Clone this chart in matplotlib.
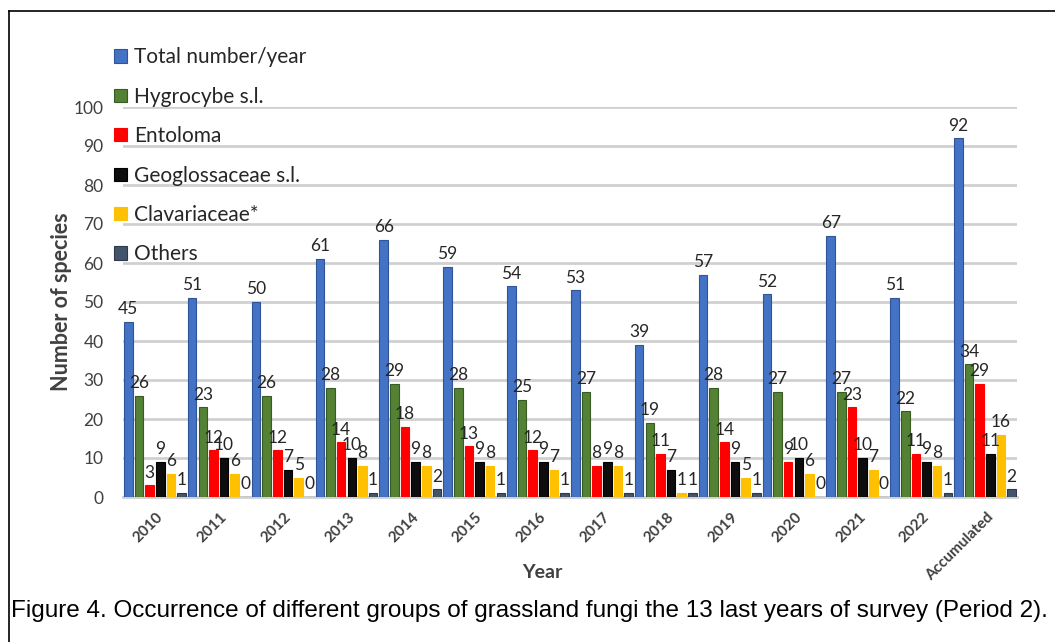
import numpy as np
import matplotlib
matplotlib.use("Agg")
import matplotlib.pyplot as plt
import matplotlib.transforms as mtransforms
from matplotlib.lines import Line2D

# Species counts per survey year
years = ["2010", "2011", "2012", "2013", "2014", "2015", "2016",
         "2017", "2018", "2019", "2020", "2021", "2022", "Accumulated"]
total = [45, 51, 50, 61, 66, 59, 54, 53, 39, 57, 52, 67, 51, 92]
hygrocybe = [26, 23, 26, 28, 29, 28, 25, 27, 19, 28, 27, 27, 22, 34]
entoloma = [3, 12, 12, 14, 18, 13, 12, 8, 11, 14, 9, 23, 11, 29]
geoglossaceae = [9, 10, 7, 10, 9, 9, 9, 9, 7, 9, 10, 10, 9, 11]
clavariaceae = [6, 6, 5, 8, 8, 8, 7, 8, 1, 5, 6, 7, 8, 16]
others = [1, 0, 0, 1, 2, 1, 1, 1, 1, 1, 0, 0, 1, 2]

series = [
    ("Total number/year", total, "#4472C4", "#2F5597"),
    ("Hygrocybe s.l.", hygrocybe, "#548235", "#3A5A24"),
    ("Entoloma", entoloma, "#FF0000", "#FF0000"),
    ("Geoglossaceae s.l.", geoglossaceae, "#0D0D0D", "#000000"),
    ("Clavariaceae*", clavariaceae, "#FFC000", "#FFC000"),
    ("Others", others, "#44546A", "#2E3A4C"),
]

W, H = 1055, 642
fig = plt.figure(figsize=(W / 100, H / 100), dpi=100)
ax = fig.add_axes([123 / W, 1 - 497 / H, (1017 - 123) / W, (497 - 107) / H])

x = np.arange(len(years))
n = len(series)
slot = 1.0 / n
bw = slot * 0.8
label_font = "Lato"

for j, (name, vals, col, edge) in enumerate(series):
    pos = x - 0.5 + slot * (j + 0.5)
    bars = ax.bar(pos, vals, width=bw, color=col, edgecolor=edge,
                  linewidth=0.8, label=name, zorder=3)
    for b, v in zip(bars, vals):
        ax.text(b.get_x() + b.get_width() / 2, v + 1.2, str(v),
                ha="center", va="bottom", fontsize=12.5, color="#262626",
                family=label_font, zorder=4)

ax.set_xlim(-0.5, len(years) - 0.5)
ax.set_ylim(0, 100)
ax.set_yticks(np.arange(0, 101, 10))
ax.yaxis.grid(True, color="#D0D0D0", linewidth=2, zorder=0)
ax.set_axisbelow(True)
for s in ["top", "right", "left"]:
    ax.spines[s].set_visible(False)
ax.spines["bottom"].set_color("#D0D0D0")
ax.spines["bottom"].set_linewidth(2)
ax.tick_params(axis="both", length=0)
ax.tick_params(axis="y", pad=14, labelsize=12.5, labelcolor="#404040")
for t in ax.get_yticklabels():
    t.set_family(label_font)

ax.set_xticks(x)
ax.set_xticklabels(years, rotation=45, ha="right", va="center",
                   rotation_mode="anchor", fontsize=11, fontweight="bold",
                   color="#404040", family=label_font)
ax.tick_params(axis="x", pad=13)
shift = mtransforms.ScaledTranslation(6 / 100, 0, fig.dpi_scale_trans)
for t in ax.get_xticklabels():
    t.set_transform(t.get_transform() + shift)

fig.text(542 / W, 1 - 573 / H, "Year", ha="center", va="center",
         fontsize=14, fontweight="bold", color="#404040", family=label_font)
fig.text(62 / W, 1 - 302 / H, "Number of species", ha="center", va="center",
         rotation=90, fontsize=15.5, fontweight="bold", color="#404040",
         family=label_font)

leg = fig.legend(loc="upper left", bbox_to_anchor=(104 / W, 1 - 37 / H),
                 frameon=False, prop={"family": label_font, "size": 15},
                 labelspacing=0.93, handlelength=0.6, handleheight=0.6,
                 handletextpad=0.35, borderpad=0)
for t in leg.get_texts():
    t.set_color("#262626")

fig.text(11 / W, 1 - 611 / H,
         "Figure 4. Occurrence of different groups of grassland fungi the 13 last years of survey (Period 2).",
         ha="left", va="center", fontsize=17.5, family="Liberation Sans",
         color="#000000")

# outer frame edges (left and top)
fig.add_artist(Line2D([9 / W, 9 / W], [0, 1 - 11 / H], color="black",
                      linewidth=1.2, transform=fig.transFigure))
fig.add_artist(Line2D([9 / W, 1], [1 - 11 / H, 1 - 11 / H], color="black",
                      linewidth=1.2, transform=fig.transFigure))

fig.savefig("out.png", dpi=100)
